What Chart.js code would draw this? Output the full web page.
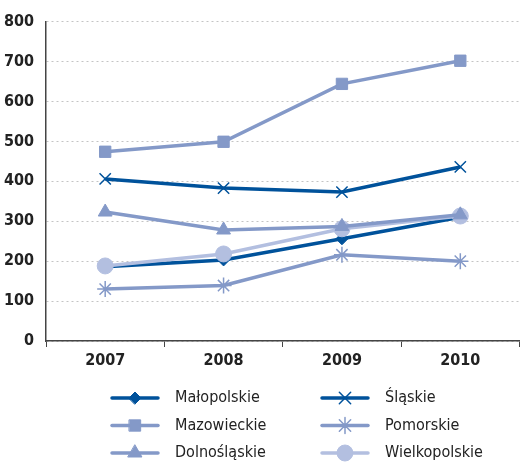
<!DOCTYPE html>
<html>
<head>
<meta charset="utf-8">
<script src="https://cdn.jsdelivr.net/npm/chart.js@4/dist/chart.umd.min.js"></script>
<style>
  html, body { margin: 0; padding: 0; background: #fff; }
  #wrap { width: 529px; height: 462px; position: relative; }
</style>
</head>
<body>
<div id="wrap"><canvas id="wykres" width="529" height="462"></canvas></div>
<script>
const lata = ["2007", "2008", "2009", "2010"];

const malopolskie = [186, 203, 256, 310];
const slaskie = [406, 383, 373, 436];
const mazowieckie = [474, 499, 644, 702];
const pomorskie = [130, 139, 216, 200];
const dolnoslaskie = [323, 278, 287, 316];
const wielkopolskie = [188, 218, 281, 313];

const yTicks = [0, 100, 200, 300, 400, 500, 600, 700, 800];

const CIEMNY = "#00529b";
const SREDNI = "#8499c8";
const JASNY = "#b3bfe0";
const FONT = "'DejaVu Sans Condensed', 'Liberation Sans Narrow', sans-serif";

function seria(label, data, color, style, radius) {
    return {
        label, data,
        borderColor: color, backgroundColor: color,
        borderWidth: 3.5,
        pointStyle: style, pointRadius: radius, pointHoverRadius: radius,
        pointBorderWidth: style === 'crossRot' || style === 'star' ? 1.5 : 1,
        tension: 0, fill: false
    };
}

// kolejność rysowania (od spodu)
const datasets = [
    seria("Dolnośląskie", dolnoslaskie, SREDNI, 'triangle', 8),
    seria("Pomorskie", pomorskie, SREDNI, 'star', 8),
    seria("Wielkopolskie", wielkopolskie, JASNY, 'circle', 8),
    seria("Małopolskie", malopolskie, CIEMNY, 'rectRot', 6),
    seria("Mazowieckie", mazowieckie, SREDNI, 'rect', 8),
    seria("Śląskie", slaskie, CIEMNY, 'crossRot', 8)
];

// układ legendy: dwie kolumny
const legendaUklad = [
    ["Małopolskie", 0, 0], ["Śląskie", 1, 0],
    ["Mazowieckie", 0, 1], ["Pomorskie", 1, 1],
    ["Dolnośląskie", 0, 2], ["Wielkopolskie", 1, 2]
];

const legendaPlugin = {
    id: 'legenda',
    afterDraw(chart) {
        const ctx = chart.ctx;
        ctx.save();
        legendaUklad.forEach(([nazwa, kol, wiersz]) => {
            const ds = chart.data.datasets.find(d => d.label === nazwa);
            const x0 = kol === 0 ? 112 : 322;
            const y = 398 + wiersz * 27.5;
            ctx.strokeStyle = ds.borderColor;
            ctx.lineWidth = 3.5;
            ctx.lineCap = 'round';
            ctx.beginPath();
            ctx.moveTo(x0, y);
            ctx.lineTo(x0 + 46, y);
            ctx.stroke();
            ctx.fillStyle = ds.backgroundColor;
            ctx.lineWidth = ds.pointBorderWidth;
            Chart.helpers.drawPoint(ctx, {
                pointStyle: ds.pointStyle, radius: ds.pointRadius, borderWidth: ds.pointBorderWidth
            }, x0 + 23, y);
            ctx.fillStyle = "#222";
            ctx.font = "16px " + FONT;
            ctx.textBaseline = 'middle';
            ctx.textAlign = 'left';
            ctx.fillText(nazwa, x0 + 63, y);
        });
        ctx.restore();
    }
};

new Chart(document.getElementById('wykres').getContext('2d'), {
    type: 'line',
    data: { labels: lata, datasets },
    options: {
        responsive: false,
        animation: false,
        layout: { padding: { top: 14, right: 3, bottom: 0, left: 0 } },
        plugins: {
            legend: { display: false },
            tooltip: { enabled: false }
        },
        scales: {
            x: {
                offset: true,
                grid: { display: true, drawOnChartArea: false, drawTicks: true, tickLength: 6, offset: true, color: "#444" },
                border: { color: "#444", width: 1.5 },
                ticks: { color: "#222", font: { family: FONT, size: 16, weight: 'bold' }, padding: 4 },
                afterFit(scale) { scale.height = 121; }
            },
            y: {
                min: 0, max: 800,
                afterBuildTicks(scale) { scale.ticks = yTicks.map(v => ({ value: v })); },
                grid: { color: "#c4c4c4", lineWidth: 1, drawTicks: false },
                border: { color: "#444", width: 1.5, dash: [2, 3] },
                ticks: { color: "#222", font: { family: FONT, size: 16, weight: 'bold' }, padding: 12 },
                afterFit(scale) { scale.width = 46; }
            }
        }
    },
    plugins: [legendaPlugin]
});
</script>
</body>
</html>
